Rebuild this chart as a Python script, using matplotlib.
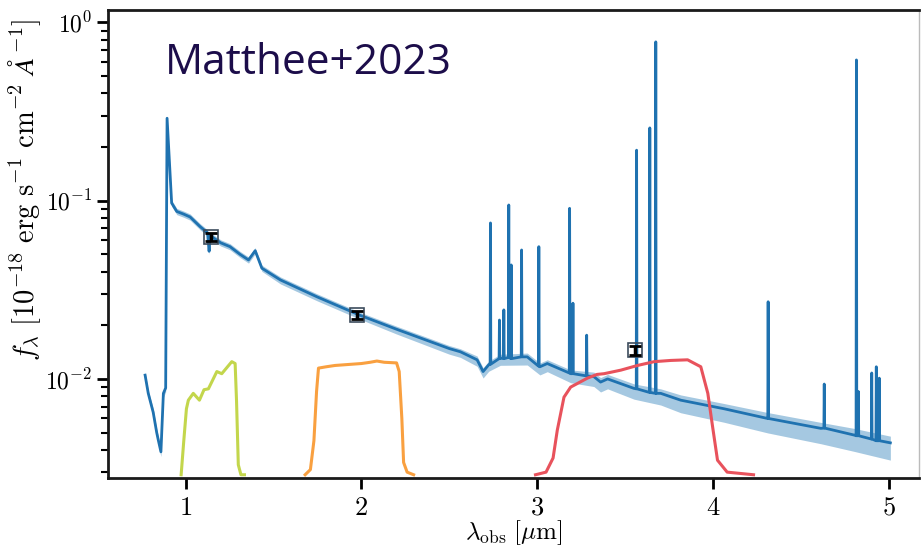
import numpy as np
import matplotlib
matplotlib.use("Agg")
import matplotlib.pyplot as plt

# -----------------------------
# Spectrum: continuum knots (um, 1e-18 erg/s/cm2/A)
# -----------------------------
cont_wave = [0.77, 0.788, 0.816, 0.836, 0.845, 0.86, 0.874, 0.887, 0.895,
             0.921, 0.95, 0.99, 1.026, 1.083, 1.125, 1.134, 1.14, 1.149,
             1.2, 1.253, 1.31, 1.358, 1.396, 1.434, 1.54, 1.747, 1.99,
             2.2, 2.5, 2.563, 2.658, 2.692, 2.724, 2.79, 2.943, 3.015,
             3.057, 3.19, 3.322, 3.36, 3.40, 3.55, 3.702, 3.816, 4.063,
             4.31, 4.613, 4.803, 5.008]
cont_flux = [0.0105, 0.0083, 0.0065, 0.0050, 0.00454, 0.0039, 0.0083, 0.0089, 0.29,
             0.097, 0.087, 0.084, 0.081, 0.0715, 0.066, 0.052, 0.064, 0.0628,
             0.058, 0.0552, 0.050, 0.0465, 0.0524, 0.0418, 0.0359, 0.0289, 0.0228,
             0.0190, 0.0148, 0.0142, 0.0128, 0.0110, 0.0120, 0.0131, 0.0133, 0.0117,
             0.0122, 0.0107, 0.0103, 0.0096, 0.0100, 0.00885, 0.0083, 0.0076, 0.0068,
             0.0060, 0.00528, 0.00484, 0.00438]
# 1-sigma envelope as fraction of the continuum
band_lo = [0.05, 0.05, 0.06, 0.06, 0.06, 0.06, 0.05, 0.05, 0.03,
           0.04, 0.04, 0.04, 0.04, 0.04, 0.04, 0.04, 0.04, 0.04,
           0.04, 0.04, 0.04, 0.04, 0.04, 0.04, 0.05, 0.05, 0.05,
           0.06, 0.07, 0.07, 0.08, 0.08, 0.08, 0.09, 0.10, 0.10,
           0.10, 0.11, 0.12, 0.12, 0.12, 0.13, 0.14, 0.15, 0.16,
           0.17, 0.18, 0.19, 0.20]
band_hi = [0.04, 0.04, 0.05, 0.05, 0.05, 0.05, 0.04, 0.04, 0.03,
           0.04, 0.04, 0.04, 0.04, 0.04, 0.04, 0.04, 0.04, 0.04,
           0.04, 0.04, 0.04, 0.04, 0.04, 0.04, 0.04, 0.04, 0.04,
           0.04, 0.04, 0.04, 0.05, 0.05, 0.05, 0.05, 0.05, 0.05,
           0.05, 0.05, 0.06, 0.06, 0.06, 0.06, 0.06, 0.07, 0.07,
           0.08, 0.08, 0.09, 0.09]

# emission lines: centre, local continuum, peak
line_wave = [2.734, 2.785, 2.81, 2.838, 2.852, 2.911, 3.009, 3.184, 3.203, 3.281,
             3.565, 3.64, 3.674, 4.313, 4.632, 4.815, 4.826, 4.902, 4.928, 4.945]
line_base = [0.0121, 0.0130, 0.0130, 0.0132, 0.0130, 0.0133, 0.0118, 0.0108, 0.0107, 0.0104,
             0.0088, 0.0084, 0.0083, 0.0060, 0.0053, 0.0048, 0.0048, 0.0046, 0.0045, 0.0045]
line_peak = [0.075, 0.0214, 0.0244, 0.0946, 0.0436, 0.0529, 0.0552, 0.0906, 0.0266, 0.0176,
             0.192, 0.256, 0.778, 0.0271, 0.00936, 0.616, 0.0085, 0.0108, 0.0117, 0.0101]

# -----------------------------
# Photometry
# -----------------------------
phot_wave = [1.145, 1.977, 3.554]
phot_flux = [0.0626, 0.0228, 0.0145]
phot_err = [0.0032, 0.0012, 0.0008]

# -----------------------------
# Filter transmission (scaled into flux units)
# -----------------------------
f115_wave = [0.975, 0.99, 1.005, 1.016, 1.044, 1.079, 1.105, 1.13, 1.178,
             1.206, 1.263, 1.282, 1.29, 1.30, 1.315, 1.335]
f115_flux = [0.0029, 0.0045, 0.0068, 0.0076, 0.0083, 0.0076, 0.0087, 0.0088, 0.0110,
             0.0107, 0.0125, 0.0122, 0.0075, 0.0033, 0.0029, 0.0029]
f200_wave = [1.68, 1.71, 1.73, 1.745, 1.756, 1.80, 1.85, 1.90, 1.95, 2.00,
             2.05, 2.088, 2.13, 2.2, 2.215, 2.23, 2.24, 2.26, 2.297]
f200_flux = [0.0029, 0.0031, 0.0045, 0.0085, 0.0115, 0.0117, 0.0119, 0.0120, 0.0121, 0.0122,
             0.0124, 0.0126, 0.0124, 0.0123, 0.0110, 0.0060, 0.0034, 0.0030, 0.0029]
f356_wave = [2.99, 3.05, 3.09, 3.114, 3.152, 3.19, 3.285, 3.34, 3.38, 3.475,
             3.57, 3.665, 3.76, 3.855, 3.93, 3.97, 3.997, 4.025, 4.08, 4.23]
f356_flux = [0.0029, 0.0030, 0.0036, 0.00516, 0.0079, 0.0090, 0.0101, 0.0106, 0.0107, 0.0112,
             0.0119, 0.0125, 0.0127, 0.0128, 0.0117, 0.0083, 0.0054, 0.0035, 0.0030, 0.0029]

# -----------------------------
# Build full spectrum (continuum + line spikes)
# -----------------------------
wave = list(cont_wave)
flux = list(cont_flux)
for lw, base, peak in zip(line_wave, line_base, line_peak):
    wave += [lw - 0.002, lw, lw + 0.002]
    flux += [base, peak, base]
order = np.argsort(wave)
wave = np.array(wave)[order]
flux = np.array(flux)[order]

cont_wave = np.array(cont_wave)
cont_flux = np.array(cont_flux)
lo = cont_flux * (1 - np.array(band_lo))
hi = cont_flux * (1 + np.array(band_hi))

# -----------------------------
# Plot
# -----------------------------
plt.rcParams["mathtext.fontset"] = "cm"
plt.rcParams["font.family"] = "serif"
plt.rcParams["font.serif"] = ["cmr10", "DejaVu Serif"]
plt.rcParams["axes.formatter.use_mathtext"] = True

fig = plt.figure(figsize=(9.23, 5.52), dpi=100)
ax = fig.add_axes([0.117, 0.134, 0.8787, 0.848])

ax.fill_between(cont_wave, lo, hi, color="#1f77b4", alpha=0.4, lw=0)
ax.plot(wave, flux, color="#1f72b0", lw=2)

ax.plot(f115_wave, f115_flux, color="#c3d64c", lw=2.2)
ax.plot(f200_wave, f200_flux, color="#f9a040", lw=2.2)
ax.plot(f356_wave, f356_flux, color="#e8525c", lw=2.2)

ax.plot(phot_wave, phot_flux, "s", ms=10, mfc="none", mec="#3c4c5c", mew=1.2)
ax.errorbar(phot_wave, phot_flux, yerr=phot_err, fmt="none", ecolor="black",
            elinewidth=2.5, capsize=4, capthick=2)

ax.set_yscale("log")
ax.set_xlim(0.559, 5.171)
ax.set_ylim(0.00278, 1.175)
ax.set_xticks([1, 2, 3, 4, 5])

ax.set_xlabel(r"$\lambda_{\rm obs}\ [\mu{\rm m}]$", fontsize=18, labelpad=-1)
ax.set_ylabel(r"$f_\lambda\ [10^{-18}\ {\rm erg\ s^{-1}\ cm^{-2}}\ \AA^{-1}]$",
              fontsize=20.5)
ax.yaxis.set_label_coords(-0.080, 0.615)

ax.tick_params(axis="x", which="major", labelsize=19, length=8, width=2,
               direction="out", pad=5)
ax.tick_params(axis="y", which="major", labelsize=17, length=8, width=2, direction="out")
ax.tick_params(axis="y", which="minor", length=5, width=1.5)
for side in ["left", "bottom", "top"]:
    ax.spines[side].set_linewidth(2)
    ax.spines[side].set_color("#1a1a1a")
ax.spines["right"].set_linewidth(1)
ax.spines["right"].set_color("#bbbbbb")

ax.text(0.070, 0.887, "Matthee+2023", transform=ax.transAxes, fontsize=30.5,
        family="Open Sans", color="#1c0d4a", va="center", ha="left")

fig.savefig("out.png", dpi=100)
